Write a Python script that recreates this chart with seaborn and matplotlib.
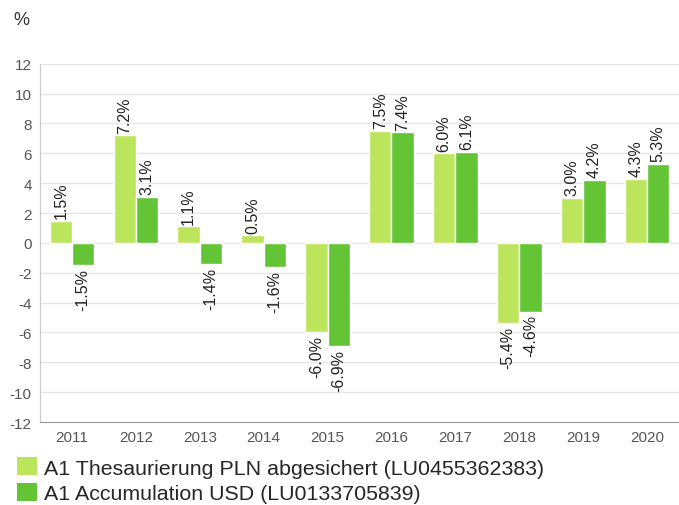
import pandas as pd
import matplotlib.pyplot as plt
import seaborn as sns
from matplotlib.patches import Patch

# Data
years = ['2011', '2012', '2013', '2014', '2015', '2016', '2017', '2018', '2019', '2020']
pln_hedged = [1.5, 7.2, 1.1, 0.5, -6.0, 7.5, 6.0, -5.4, 3.0, 4.3]
usd_acc = [-1.5, 3.1, -1.4, -1.6, -6.9, 7.4, 6.1, -4.6, 4.2, 5.3]
series_names = ['A1 Thesaurierung PLN abgesichert (LU0455362383)',
                'A1 Accumulation USD (LU0133705839)']
colors = ['#bbe55b', '#63c435']

df = pd.DataFrame({
    'Year': years * 2,
    'Return': pln_hedged + usd_acc,
    'Series': [series_names[0]] * len(years) + [series_names[1]] * len(years),
})

sns.set_style('white')
plt.rcParams['font.family'] = ['Liberation Sans', 'DejaVu Sans']
plt.rcParams['axes.unicode_minus'] = False

fig = plt.figure(figsize=(6.79, 5.06), dpi=100)
ax = fig.add_axes([0.059, 0.164, 0.941, 0.708])

sns.barplot(data=df, x='Year', y='Return', hue='Series', palette=colors,
            width=0.7, edgecolor='white', linewidth=1, saturation=1, ax=ax)

for cont in ax.containers:
    ax.bar_label(cont, fmt='{:.1f}%', rotation=90, padding=2,
                 fontsize=11.5, color='#222222')

ax.set_ylim(-12, 12)
ax.set_yticks(range(-12, 13, 2))
ax.set_xlim(-0.5, 9.5)
ax.set_xlabel('')
ax.set_ylabel('')
ax.grid(axis='y', color='#e6e6e6', linewidth=1)
ax.set_axisbelow(True)
ax.tick_params(axis='both', length=0, labelsize=11, labelcolor='#555555', pad=6)
for side in ['top', 'right']:
    ax.spines[side].set_visible(False)
ax.spines['left'].set_color('#cccccc')
ax.spines['bottom'].set_color('#999999')
ax.get_legend().remove()

fig.text(0.019, 0.96, '%', fontsize=13, color='#333333', ha='left', va='center')

handles = [Patch(facecolor=c, edgecolor='none') for c in colors]
fig.legend(handles, series_names, loc='upper left', bbox_to_anchor=(0.025, 0.095),
           frameon=False, fontsize=15.4, handlelength=0.95, handleheight=0.95,
           handletextpad=0.3, labelspacing=0.25, borderaxespad=0, borderpad=0)

plt.savefig('out.png', dpi=100)
